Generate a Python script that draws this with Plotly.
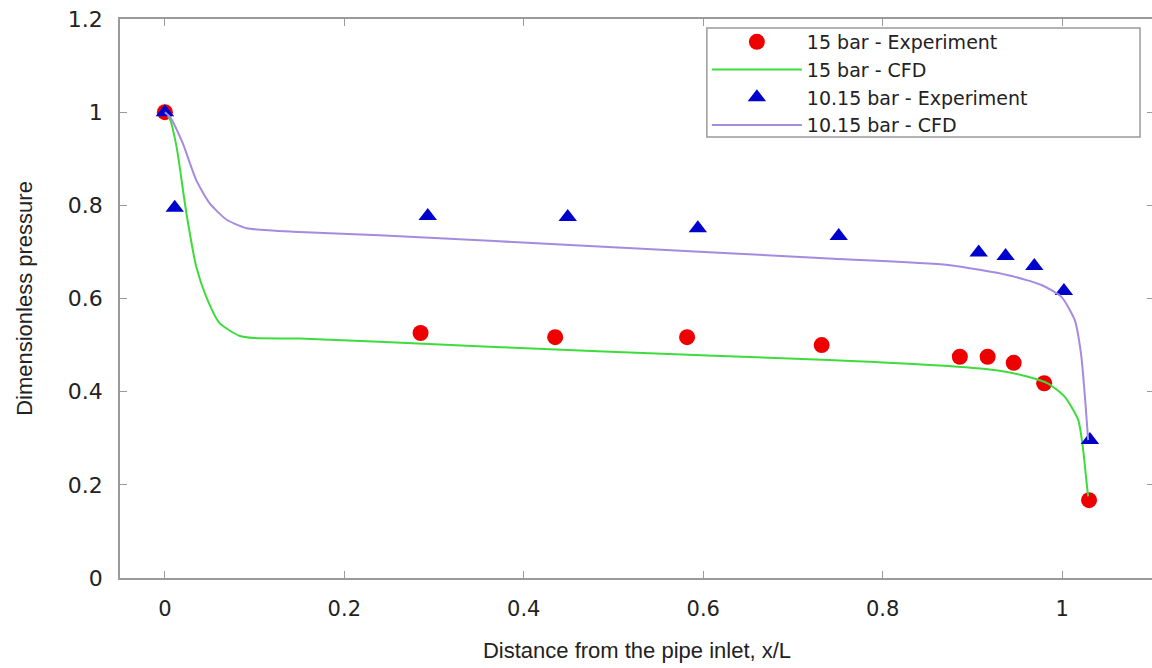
import plotly.graph_objects as go

# 15 bar - Experiment
exp15_x = [0.0, 0.285, 0.435, 0.582, 0.732, 0.886, 0.917, 0.946, 0.980, 1.030]
exp15_y = [1.0, 0.526, 0.517, 0.517, 0.500, 0.475, 0.475, 0.462, 0.418, 0.167]

# 15 bar - CFD
cfd15_x = [0.0, 0.0056, 0.013, 0.024, 0.035, 0.046, 0.061, 0.083, 0.10, 0.150, 0.239, 0.489,
           0.740, 0.873, 0.930, 0.962, 0.984, 1.003, 1.018, 1.023, 1.027, 1.029]
cfd15_y = [1.0, 0.985, 0.926, 0.783, 0.668, 0.604, 0.547, 0.520, 0.515, 0.514, 0.507, 0.486,
           0.468, 0.455, 0.445, 0.432, 0.418, 0.389, 0.339, 0.282, 0.210, 0.175]

# 10.15 bar - Experiment
exp10_x = [0.0, 0.011, 0.293, 0.449, 0.594, 0.751, 0.907, 0.937, 0.969, 1.002, 1.031]
exp10_y = [1.0, 0.795, 0.777, 0.775, 0.751, 0.734, 0.699, 0.691, 0.670, 0.616, 0.296]

# 10.15 bar - CFD
cfd10_x = [0.0, 0.0056, 0.020, 0.035, 0.050, 0.069, 0.091, 0.150, 0.239, 0.489, 0.740,
           0.873, 0.940, 0.977, 0.999, 1.014, 1.021, 1.026, 1.029]
cfd10_y = [1.0, 0.990, 0.933, 0.854, 0.804, 0.769, 0.751, 0.743, 0.736, 0.711, 0.686,
           0.672, 0.650, 0.629, 0.604, 0.554, 0.482, 0.375, 0.296]

x_ticks = [0, 0.2, 0.4, 0.6, 0.8, 1]
x_tick_labels = ["0", "0.2", "0.4", "0.6", "0.8", "1"]
y_ticks = [0, 0.2, 0.4, 0.6, 0.8, 1, 1.2]
y_tick_labels = ["0", "0.2", "0.4", "0.6", "0.8", "1", "1.2"]

fig = go.Figure()
fig.add_trace(go.Scatter(x=exp15_x, y=exp15_y, mode="markers", name="15 bar - Experiment",
                         marker=dict(symbol="circle", size=16, color="#ee0000",
                                     line=dict(width=0))))
fig.add_trace(go.Scatter(x=cfd15_x, y=cfd15_y, mode="lines", name="15 bar - CFD",
                         line=dict(color="#3ddc3d", width=2, shape="spline", smoothing=0.6)))
fig.add_trace(go.Scatter(x=exp10_x, y=exp10_y, mode="markers", name="10.15 bar - Experiment",
                         marker=dict(symbol="triangle-up", size=16, color="#0000cc",
                                     line=dict(width=0))))
fig.add_trace(go.Scatter(x=cfd10_x, y=cfd10_y, mode="lines", name="10.15 bar - CFD",
                         line=dict(color="#a58be0", width=2, shape="spline", smoothing=0.6)))

axis_common = dict(showgrid=False, zeroline=False, showline=True, linecolor="#9a9a9a",
                   linewidth=1.5, mirror="allticks", ticks="inside", ticklen=7,
                   tickcolor="#9a9a9a", tickwidth=1, ticklabelstandoff=11,
                   ticklabeloverflow="allow")

W, H = 1156, 668
L, R, T, B = 120, 0, 19, 90
PW, PH = W - L - R, H - T - B

fig.update_layout(
    width=W, height=H,
    margin=dict(l=L, r=R, t=T, b=B),
    paper_bgcolor="white", plot_bgcolor="white",
    showlegend=True,
    legend=dict(x=(708 - L) / PW, y=(578 - 23) / PH,
                xanchor="left", yanchor="top",
                bgcolor="rgba(0,0,0,0)", borderwidth=0,
                font=dict(family="DejaVu Sans", size=19, color="#222222"),
                tracegroupgap=0, itemwidth=90, traceorder="normal"),
    shapes=[dict(type="rect", xref="paper", yref="paper",
                 x0=(708 - L) / PW, x1=(1142 - L) / PW,
                 y0=(578 - 137) / PH, y1=(578 - 28) / PH,
                 line=dict(color="#9a9a9a", width=1.5), fillcolor="white", layer="above")],
    xaxis=dict(range=[-0.05, -0.05 + PW / 899.0], tickvals=x_ticks,
               ticktext=x_tick_labels,
               tickfont=dict(family="DejaVu Sans", size=21, color="#222222"),
               title=dict(text="Distance from the pipe inlet, x/L", standoff=23,
                          font=dict(family="Liberation Sans", size=22, color="#222222")),
               **axis_common),
    yaxis=dict(range=[0, 1.2], tickvals=y_ticks, ticktext=y_tick_labels,
               tickfont=dict(family="DejaVu Sans", size=22, color="#222222"),
               title=dict(text="Dimensionless pressure", standoff=29,
                          font=dict(family="Liberation Sans", size=22, color="#222222")),
               **axis_common),
)

fig.write_html(
    "out.html",
    config={"displayModeBar": False},
    post_script="document.body.style.margin='0';document.body.style.overflow='hidden';"
                "document.documentElement.style.overflow='hidden';",
)
